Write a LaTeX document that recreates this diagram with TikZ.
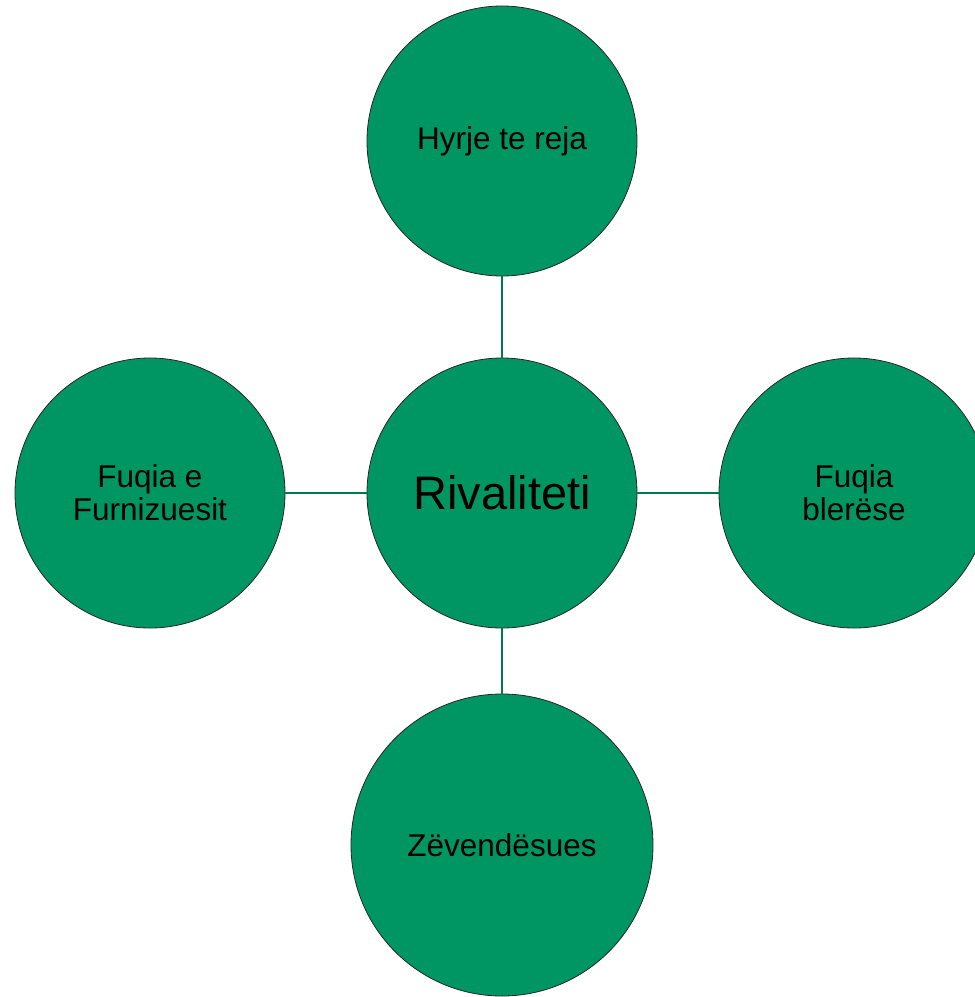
\documentclass[tikz,border=0pt]{standalone}
\usepackage{fontspec}
\setmainfont{Liberation Sans}
\usetikzlibrary{positioning}
\definecolor{forcegreen}{RGB}{0,150,100}
\definecolor{linkgreen}{RGB}{0,120,82}

\begin{document}
\begin{tikzpicture}[
						node distance={176pt},
						force/.style = {draw=black!85, line width=0.4pt, fill=forcegreen, circle, minimum size=135pt, inner sep=0pt, align=center, font=\fontsize{15.75}{16.6}\selectfont},
						core/.style = {force, font=\fontsize{23.5}{26}\selectfont},
						bigforce/.style = {force, minimum size=151pt},
						link/.style = {draw=linkgreen, line width=1pt}
					]
\useasboundingbox (0,0) rectangle (487.5pt,-498.5pt);
\node[core] (riv) at (251pt,-246.5pt) {Rivaliteti};
\node[force] (hyrje) [above of=riv] {Hyrje te reja};
\node[force] (furn) [left of=riv] {Fuqia e\\Furnizuesit};
\node[force] (bler) [right of=riv] {Fuqia\\blerëse};
\node[bigforce] (zev) [below of=riv] {Zëvendësues};

\draw[link] (riv) -- (hyrje);
\draw[link] (riv) -- (furn);
\draw[link] (riv) -- (bler);
\draw[link] (riv) -- (zev);
\end{tikzpicture}
\end{document}
